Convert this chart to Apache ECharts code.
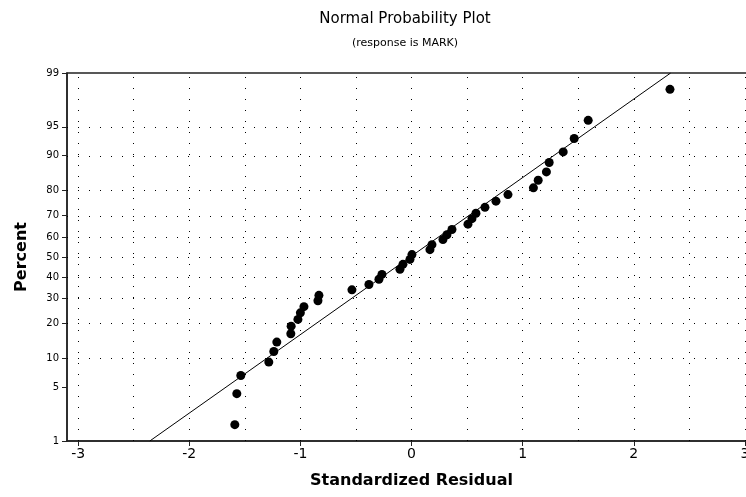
<!DOCTYPE html>
<html>
<head>
<meta charset="utf-8">
<script src="https://cdn.jsdelivr.net/npm/echarts@6/dist/echarts.min.js"></script>
<style>
html,body{margin:0;padding:0;background:#fff;}
#chart{width:746px;height:497px;}
</style>
</head>
<body>
<div id="chart"></div>
<script>
// ---- data ----
const residuals = [-1.590,-1.572,-1.536,-1.284,-1.239,-1.212,-1.086,-1.083,-1.022,-1.000,
  -0.968,-0.842,-0.833,-0.536,-0.383,-0.293,-0.266,-0.104,-0.077,-0.014,
  0.004,0.166,0.184,0.283,0.319,0.364,0.508,0.544,0.580,0.661,
  0.760,0.868,1.097,1.140,1.214,1.239,1.365,1.464,1.590,2.326];
const percents = [1.7,4.2,6.7,9.2,11.6,14.1,16.6,19.1,21.5,24.0,
  26.5,29.0,31.4,33.9,36.4,38.9,41.3,43.8,46.3,48.8,
  51.2,53.7,56.2,58.7,61.1,63.6,66.1,68.6,71.0,73.5,
  76.0,78.5,80.9,83.4,85.9,88.4,90.8,93.3,95.8,98.3];
const fitPercent = [1, 99];
const fitResidual = [-2.355, 2.332];
const percentTicks = [1,5,10,20,30,40,50,60,70,80,90,95,99];
const percentGrid = [10,20,30,40,50,60,70,80,90,95];
const residualTicks = [-3,-2,-1,0,1,2,3];
const residualGrid = [-3,-2.5,-2,-1.5,-1,-0.5,0,0.5,1,1.5,2,2.5,3];

// inverse standard normal CDF (Acklam) for the probability scale
function probit(p){
  const a=[-3.969683028665376e+01,2.209460984245205e+02,-2.759285104469687e+02,1.383577518672690e+02,-3.066479806614716e+01,2.506628277459239e+00];
  const b=[-5.447609879822406e+01,1.615858368580409e+02,-1.556989798598866e+02,6.680131188771972e+01,-1.328068155288572e+01];
  const c=[-7.784894002430293e-03,-3.223964580411365e-01,-2.400758277161838e+00,-2.549732539343734e+00,4.374664141464968e+00,2.938163982698783e+00];
  const d=[7.784695709041462e-03,3.224671290700398e-01,2.445134137142996e+00,3.754408661907416e+00];
  const pl=0.02425, ph=1-pl; let q,r;
  if(p<pl){q=Math.sqrt(-2*Math.log(p));return (((((c[0]*q+c[1])*q+c[2])*q+c[3])*q+c[4])*q+c[5])/((((d[0]*q+d[1])*q+d[2])*q+d[3])*q+1);}
  if(p<=ph){q=p-0.5;r=q*q;return (((((a[0]*r+a[1])*r+a[2])*r+a[3])*r+a[4])*r+a[5])*q/(((((b[0]*r+b[1])*r+b[2])*r+b[3])*r+b[4])*r+1);}
  q=Math.sqrt(-2*Math.log(1-p));return -(((((c[0]*q+c[1])*q+c[2])*q+c[3])*q+c[4])*q+c[5])/((((d[0]*q+d[1])*q+d[2])*q+d[3])*q+1);
}
const zOf = pct => probit(pct/100);
const zTicks = percentTicks.map(zOf);

const pts = residuals.map((x,i)=>[x, zOf(percents[i])]);
const fitPts = fitResidual.map((x,i)=>[x, zOf(fitPercent[i])]);

const gridStyle = {type:[1,10], color:'#000', width:1, opacity:1};
const markData = percentGrid.map(p=>({yAxis: zOf(p)})).concat(residualGrid.map(v=>({xAxis:v})));

const chart = echarts.init(document.getElementById('chart'), null, {renderer:'canvas'});
chart.setOption({
  animation:false,
  backgroundColor:'#fff',
  title:[
    {text:'Normal Probability Plot', left:400, top:7, textAlign:'center',
     textStyle:{fontFamily:'DejaVu Sans', fontSize:15, fontWeight:'normal', color:'#000'}},
    {text:'(response is MARK)', left:400, top:33, textAlign:'center',
     textStyle:{fontFamily:'DejaVu Sans', fontSize:11, fontWeight:'normal', color:'#000'}}
  ],
  grid:{left:67, top:73, width:689, height:368, show:true, borderColor:'#222', borderWidth:1.5,
        backgroundColor:'transparent', containLabel:false, outerBoundsMode:'none'},
  xAxis:{
    type:'value', min:-3.1, max:3.1,
    name:'Standardized Residual', nameLocation:'middle', nameGap:32,
    nameTextStyle:{fontFamily:'DejaVu Sans', fontSize:16, fontWeight:'bold', color:'#000'},
    axisLine:{show:true, onZero:false, lineStyle:{color:'#222', width:1.5}},
    axisTick:{show:true, inside:false, length:5, customValues:residualTicks, lineStyle:{color:'#222'}},
    axisLabel:{customValues:residualTicks, margin:6, color:'#000', fontFamily:'DejaVu Sans', fontSize:14},
    splitLine:{show:false}
  },
  yAxis:{
    type:'value', min:zOf(1), max:zOf(99),
    name:'Percent', nameLocation:'middle', nameGap:37, nameRotate:90,
    nameTextStyle:{fontFamily:'DejaVu Sans', fontSize:16, fontWeight:'bold', color:'#000'},
    axisLine:{show:true, onZero:false, lineStyle:{color:'#222', width:1.5}},
    axisTick:{show:true, inside:false, length:5, customValues:zTicks, lineStyle:{color:'#222'}},
    axisLabel:{customValues:zTicks, margin:8, color:'#000', fontFamily:'DejaVu Sans', fontSize:10,
      formatter:v=>{ let best='',bd=1e9; percentTicks.forEach((p,i)=>{const d=Math.abs(zTicks[i]-v); if(d<bd){bd=d;best=String(p);} }); return best; }},
    splitLine:{show:false}
  },
  series:[
    {type:'line', data:fitPts, showSymbol:false, symbol:'none', lineStyle:{color:'#000', width:1}, z:3,
     markLine:{silent:true, symbol:'none', label:{show:false}, lineStyle:gridStyle, data:markData, animation:false}},
    {type:'scatter', data:pts, symbol:'circle', symbolSize:9, itemStyle:{color:'#000', opacity:1}, z:4}
  ]
});
</script>
</body>
</html>
